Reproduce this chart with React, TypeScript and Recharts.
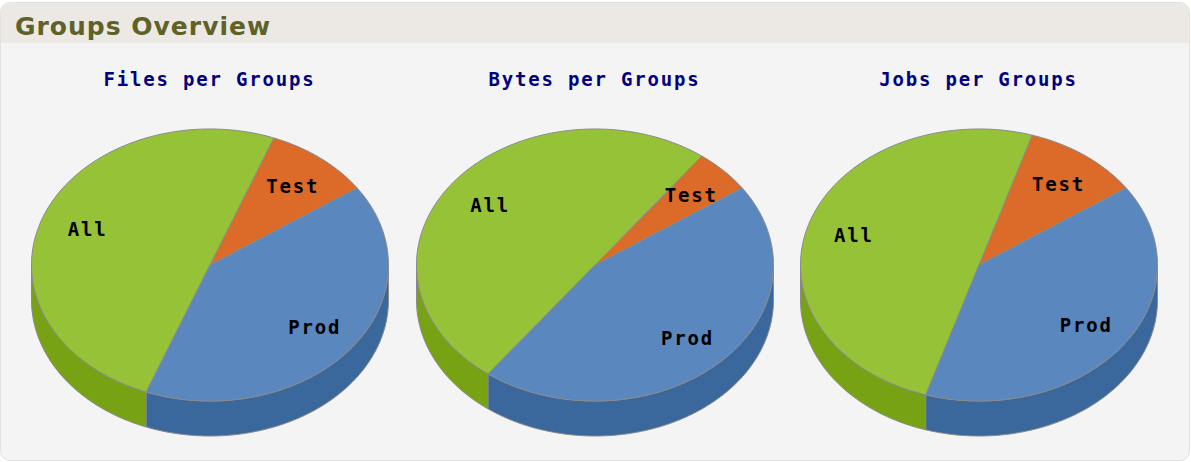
import React from 'react';
import { PieChart, Pie, Cell } from 'recharts';

// ---- data ----
const categories = ['Test', 'All', 'Prod'];
const filesValues = [9.6, 50, 40.4];
const bytesValues = [5.2, 50, 44.8];
const jobsValues = [10.6, 50, 39.4];
const chartTitles = ['Files per Groups', 'Bytes per Groups', 'Jobs per Groups'];
const panelTitle = 'Groups Overview';

// ---- styles ----
const TOP_COLORS: Record<string, string> = { Test: '#dc6a28', All: '#96c238', Prod: '#5a87be' };
const SIDE_COLORS: Record<string, string> = { Test: '#b0501a', All: '#76a214', Prod: '#3a679c' };
const STROKE = '#8a8a8a';
const K = 0.762; // vertical squash of the pie top
const DEPTH = 35;
const RADIUS = 178.5;
const CHART_W = 390;
const CHART_H = 380;
const CHART_TOP = 60;
const PIE_CY = 205;
const CENTERS = [209.5, 594.5, 978.5];
const MONO = { fontFamily: '"DejaVu Sans Mono", monospace', fontWeight: 'bold' as const, fontSize: 19, letterSpacing: 1.8 };

const toRows = (vals: number[]) => categories.map((name, i) => ({ name, value: vals[i] }));
const datasets = [toRows(filesValues), toRows(bytesValues), toRows(jobsValues)];

function pt(cx: number, cy: number, r: number, a: number, dy = 0): [number, number] {
  const rad = (a * Math.PI) / 180;
  return [cx + r * Math.cos(rad), cy - r * K * Math.sin(rad) + dy];
}

function arcPoints(cx: number, cy: number, r: number, a: number, b: number, dy = 0) {
  const pts: [number, number][] = [];
  const n = Math.max(2, Math.ceil(Math.abs(b - a)));
  for (let i = 0; i <= n; i++) {
    pts.push(pt(cx, cy, r, a + ((b - a) * i) / n, dy));
  }
  return pts;
}

function Pie3DShape(props: any) {
  const { cx, cy, outerRadius, startAngle, endAngle } = props;
  const name = props?.payload?.name ?? props?.name;
  const top = TOP_COLORS[name] ?? props.fill;
  const side = SIDE_COLORS[name] ?? props.fill;
  const lo = Math.min(startAngle, endAngle);
  const hi = Math.max(startAngle, endAngle);
  const sides: string[] = [];
  for (let k = -1; k <= 1; k++) {
    const a = Math.max(lo, 180 + 360 * k);
    const b = Math.min(hi, 360 + 360 * k);
    if (b > a) {
      const upper = arcPoints(cx, cy, outerRadius, a, b);
      const lower = arcPoints(cx, cy, outerRadius, b, a, DEPTH);
      const all = [...upper, ...lower];
      sides.push('M' + all.map((p) => `${p[0].toFixed(2)},${p[1].toFixed(2)}`).join('L') + 'Z');
    }
  }
  const topPts = arcPoints(cx, cy, outerRadius, startAngle, endAngle);
  const topPath =
    `M${cx},${cy}L` + topPts.map((p) => `${p[0].toFixed(2)},${p[1].toFixed(2)}`).join('L') + 'Z';
  return (
    <g>
      {sides.map((d, i) => (
        <path key={i} d={d} fill={side} stroke={STROKE} strokeWidth={1} strokeLinejoin="round" />
      ))}
      <path d={topPath} fill={top} stroke={STROKE} strokeWidth={1} strokeLinejoin="round" />
    </g>
  );
}

function renderLabel(props: any) {
  const { cx, cy, midAngle, outerRadius } = props;
  const name = props?.payload?.name ?? props?.name;
  const [x, y] = pt(cx, cy, outerRadius * 0.74, midAngle);
  return (
    <text x={x + 1} y={y} textAnchor="middle" dominantBaseline="central" fill="#000" style={MONO}>
      {name}
    </text>
  );
}

export default function App() {
  return (
    <div style={{ position: 'absolute', left: 0, top: 0, width: 1191, height: 462, background: '#ffffff', overflow: 'hidden' }}>
      <div
        style={{
          position: 'absolute',
          left: 0,
          top: 2,
          width: 1188,
          height: 457,
          background: '#f4f4f4',
          border: '1px solid #e2e2e2',
          borderRadius: 10,
          overflow: 'hidden',
        }}
      >
        <div style={{ position: 'absolute', left: 0, top: 0, width: '100%', height: 40, background: '#ece9e4' }} />
        <div
          style={{
            position: 'absolute',
            left: 14,
            top: 8.5,
            lineHeight: '30px',
            fontFamily: '"DejaVu Sans", sans-serif',
            fontWeight: 'bold',
            fontSize: 25,
            letterSpacing: 1,
            color: '#5f6228',
            whiteSpace: 'nowrap',
          }}
        >
          {panelTitle}
        </div>
      </div>
      {datasets.map((rows, ci) => (
        <React.Fragment key={ci}>
          <div
            style={{
              position: 'absolute',
              left: CENTERS[ci] - 200,
              width: 400,
              top: 68,
              lineHeight: '22px',
              textAlign: 'center',
              ...MONO,
              color: '#000080',
              whiteSpace: 'nowrap',
            }}
          >
            {chartTitles[ci]}
          </div>
          <div style={{ position: 'absolute', left: CENTERS[ci] - CHART_W / 2, top: CHART_TOP }}>
            <PieChart width={CHART_W} height={CHART_H} margin={{ top: 0, right: 0, bottom: 0, left: 0 }}>
              <Pie
                data={rows}
                dataKey="value"
                nameKey="name"
                cx={CHART_W / 2}
                cy={PIE_CY}
                outerRadius={RADIUS}
                innerRadius={0}
                startAngle={34.5}
                endAngle={394.5}
                stroke={STROKE}
                isAnimationActive={false}
                shape={Pie3DShape}
                activeShape={Pie3DShape}
                inactiveShape={Pie3DShape}
                label={renderLabel}
                labelLine={false}
              >
                {rows.map((r) => (
                  <Cell key={r.name} fill={TOP_COLORS[r.name]} />
                ))}
              </Pie>
            </PieChart>
          </div>
        </React.Fragment>
      ))}
    </div>
  );
}
